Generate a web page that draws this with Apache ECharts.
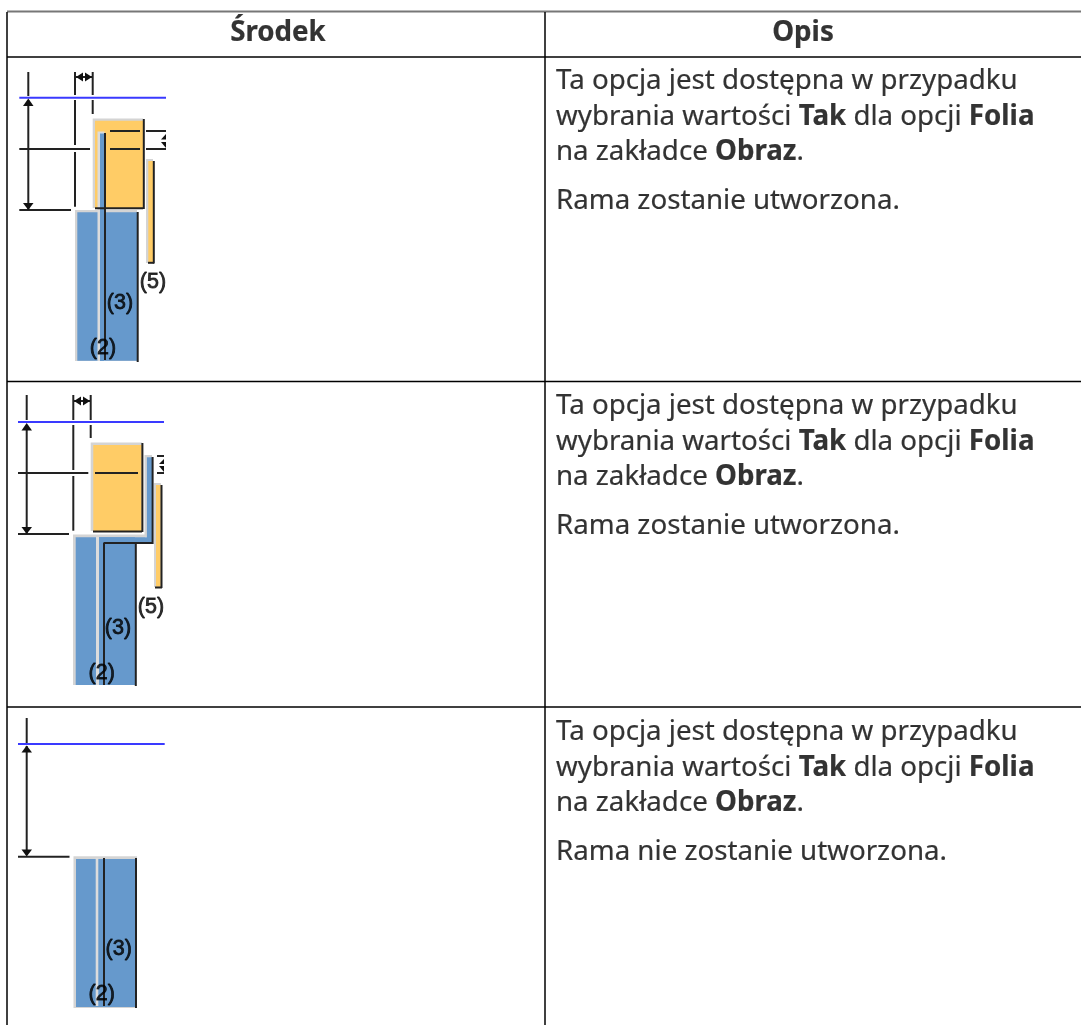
<!DOCTYPE html>
<html><head><meta charset="utf-8">
<style>html,body{margin:0;padding:0;background:#fff}#c{width:1081px;height:1025px}</style>
<script src="https://cdn.jsdelivr.net/npm/echarts@6/dist/echarts.min.js"></script>
</head><body><div id="c"></div>
<script>
// Table text
const headers = [['Środek', 278, 33.5], ['Opis', 803, 33.5]];
const bodyLines = [
  ['Ta opcja jest dostępna w przypadku', 81],
  ['wybrania wartości {b|Tak} dla opcji {b|Folia}', 117],
  ['na zakładce {b|Obraz}.', 152],
  ['Rama zostanie utworzona.', 201],
  ['Ta opcja jest dostępna w przypadku', 406],
  ['wybrania wartości {b|Tak} dla opcji {b|Folia}', 442],
  ['na zakładce {b|Obraz}.', 477],
  ['Rama zostanie utworzona.', 526],
  ['Ta opcja jest dostępna w przypadku', 732],
  ['wybrania wartości {b|Tak} dla opcji {b|Folia}', 768],
  ['na zakładce {b|Obraz}.', 803],
  ['Rama nie zostanie utworzona.', 852]
];
const calloutLabels = [
  ['(5)',153,282],['(3)',120,303],['(2)',103,348],
  ['(5)',151,606.7],['(3)',118,627.7],['(2)',101.7,672.7],
  ['(3)',118.7,949],['(2)',101.7,994]
];
// Table rules [x0,y0,x1,y1]
const tableRules = [
  [7,12,7,1025],[545,12,545,1025],
  [7,57,1081,57],[7,381.5,1081,381.5],[7,707,1081,707]
];
const tableTop = [[7,11.5,1081,11.5]];
// Panels [x0,y0,x1,y1]
const lightBack = [
  [92.7,118.5,143,208],[75,210,137,361],[146,159,153,263],
  [90.7,442.5,142,531],[73,534.5,135,685],[135,534.5,145,543],[144.5,455,152,537],[154,483,161,587],
  [73.5,856.3,137,1008]
];
const orangeFill = [
  [95,120.7,143,208],[148.3,161,153.3,262.5],
  [93.3,445,141.7,531],[156,485,160.7,586.7]
];
const blueFill = [
  [77.3,212.3,137,360.7],
  [75.7,537.3,135,685],[97,537.3,152,543],[146.9,457.3,152,543],
  [76,859,135.5,1007]
];
const lightStrip = [
  [97.5,131.5,104.5,361],
  [96,537,99,685],
  [95.7,858,98.3,1006]
];
const blueStrip = [
  [100,133.5,104.5,361]
];
// Dark lines [x0,y0,x1,y1]
const darkLines = [
  // first diagram
  [28.3,72,28.3,96],[28.3,100,28.3,209],[19.3,149,90,149],[19.3,210,71,210],
  [75,72,75,95],[75,100,75,145],[75,152,75,206.7],[92.7,72,92.7,95],[92.7,100,92.7,114],
  [76,77,92,77],[110,131,140,131],[110,149,140,149],[146,131,166,131],[146,149,166,149],
  [143.8,119,143.8,209],[95,208.3,143,208.3],[105,133,105,360],[137.7,212,137.7,362],
  [153.8,161,153.8,263.5],[148,262.8,154,262.8],
  // second diagram
  [26.7,395,26.7,420],[26.7,425,26.7,533],[18,473,88.3,473],[18,534,69,534],
  [73.3,395,73.3,420],[73.3,425,73.3,470],[73.3,476,73.3,530.7],[90.7,395,90.7,420],[90.7,425,90.7,438],
  [74,401,90,401],[95,473,138,473],[157,456,164,456],[157,473,164,473],
  [142.4,443,142.4,532],[93,531.5,142,531.5],[104,543,104,685],[103.5,543,153,543],
  [152.6,457,152.6,544],[135.8,543,135.8,686],[161.5,485,161.5,588],[155,587.5,162,587.5],
  // third diagram
  [26.7,718,26.7,743],[26.7,746,26.7,855],[18,856.7,69.5,856.7],
  [104,858,104,1006],[136,858,136,1008]
];
// Reference line [x0,y0,x1,y1]
const blueRules = [[19.3,97.7,166,97.7],[18,422,164,422],[18,744,164.7,744]];
// Arrow heads as triangles
const arrowHeads = [
  [[28.3,98.5],[23,106],[33.5,106]],[[28.3,210],[23,203],[33.5,203]],
  [[76,77],[83,72.5],[83,81.5]],[[92,77],[85,72.5],[85,81.5]],
  [[166,134],[161,139.5],[166,139.5]],[[161,142],[166,142],[166,148]],
  [[26.7,423],[21.5,430.5],[32,430.5]],[[26.7,534],[21.5,527],[32,527]],
  [[74,401],[81,396.5],[81,405.5]],[[90,401],[83,396.5],[83,405.5]],
  [[164,459],[159,464],[164,464]],[[159,466],[164,466],[164,472]],
  [[26.7,745.5],[21.5,752.5],[32,752.5]],[[26.7,856.5],[21.5,849.5],[32,849.5]]
];

const chart = echarts.init(document.getElementById('c'), null, {renderer:'canvas'});
function rectSeries(name, data, color){
  return {type:'custom', name, coordinateSystem:'cartesian2d', silent:true, animation:false, data,
    renderItem(p, api){
      const a = api.coord([api.value(0),api.value(1)]), b = api.coord([api.value(2),api.value(3)]);
      return {type:'rect', shape:{x:a[0],y:a[1],width:b[0]-a[0],height:b[1]-a[1]}, style:{fill:color}};
    }, encode:{x:[0,2],y:[1,3]}};
}
function lineSeries(name, data, color, width){
  return {type:'custom', name, coordinateSystem:'cartesian2d', silent:true, animation:false, data,
    renderItem(p, api){
      const a = api.coord([api.value(0),api.value(1)]), b = api.coord([api.value(2),api.value(3)]);
      return {type:'line', shape:{x1:a[0],y1:a[1],x2:b[0],y2:b[1]}, style:{stroke:color,lineWidth:width}};
    }, encode:{x:[0,2],y:[1,3]}};
}
function labelSeries(name, data, label){
  return {type:'scatter', name, symbolSize:0, silent:true, animation:false,
    data:data.map(d=>({value:[d[d.length-2],d[d.length-1]], name:d[0]})),
    label:Object.assign({show:true, formatter:p=>p.name}, label)};
}
const triangleSeries = {type:'custom', name:'arrows', coordinateSystem:'cartesian2d', silent:true, animation:false,
  data:arrowHeads.map((t,i)=>[i, t[0][0], t[0][1]]),
  renderItem(p, api){
    const t = arrowHeads[api.value(0)];
    return {type:'polygon', shape:{points:t.map(q=>api.coord(q))}, style:{fill:'#111'}};
  }, encode:{x:1,y:2}};

const bodyFont = {fontFamily:'Noto Sans', fontSize:27.7, color:'#000', textBorderColor:'#000', textBorderWidth:0.2};
const option = {
  animation:false, backgroundColor:'#fff',
  grid:{left:0,right:0,top:0,bottom:0},
  xAxis:{type:'value',min:0,max:1081,show:false},
  yAxis:{type:'value',min:0,max:1025,inverse:true,show:false},
  series:[
    lineSeries('tableTop',tableTop,'#777',2),
    lineSeries('table',tableRules,'#000',1.5),
    rectSeries('lightBack',lightBack,'#d4d4d4'),
    rectSeries('orange',orangeFill,'#FFCC66'),
    rectSeries('blue',blueFill,'#6699CC'),
    rectSeries('lightStrip',lightStrip,'#dcdcdc'),
    rectSeries('blueStrip',blueStrip,'#6699CC'),
    lineSeries('dark',darkLines,'#222',2),
    lineSeries('guide',blueRules,'#3a3aff',2),
    triangleSeries,
    labelSeries('callouts',calloutLabels,{position:'inside',fontFamily:'Liberation Sans',fontSize:21.5,color:'#000',textBorderColor:'#000',textBorderWidth:0.8}),
    labelSeries('headers',headers.map(h=>[h[0],h[1],h[2]]),{position:'inside',fontFamily:'Noto Sans',fontSize:27.7,fontWeight:'bold',color:'#000',textBorderColor:'#000',textBorderWidth:0.2}),
    labelSeries('body',bodyLines.map(l=>[l[0],556,l[1]]),{position:'right',distance:0,align:'left',verticalAlign:'middle',
      ...bodyFont, rich:{b:{...bodyFont,fontWeight:'bold'}}})
  ]
};
chart.setOption(option);
</script></body></html>
